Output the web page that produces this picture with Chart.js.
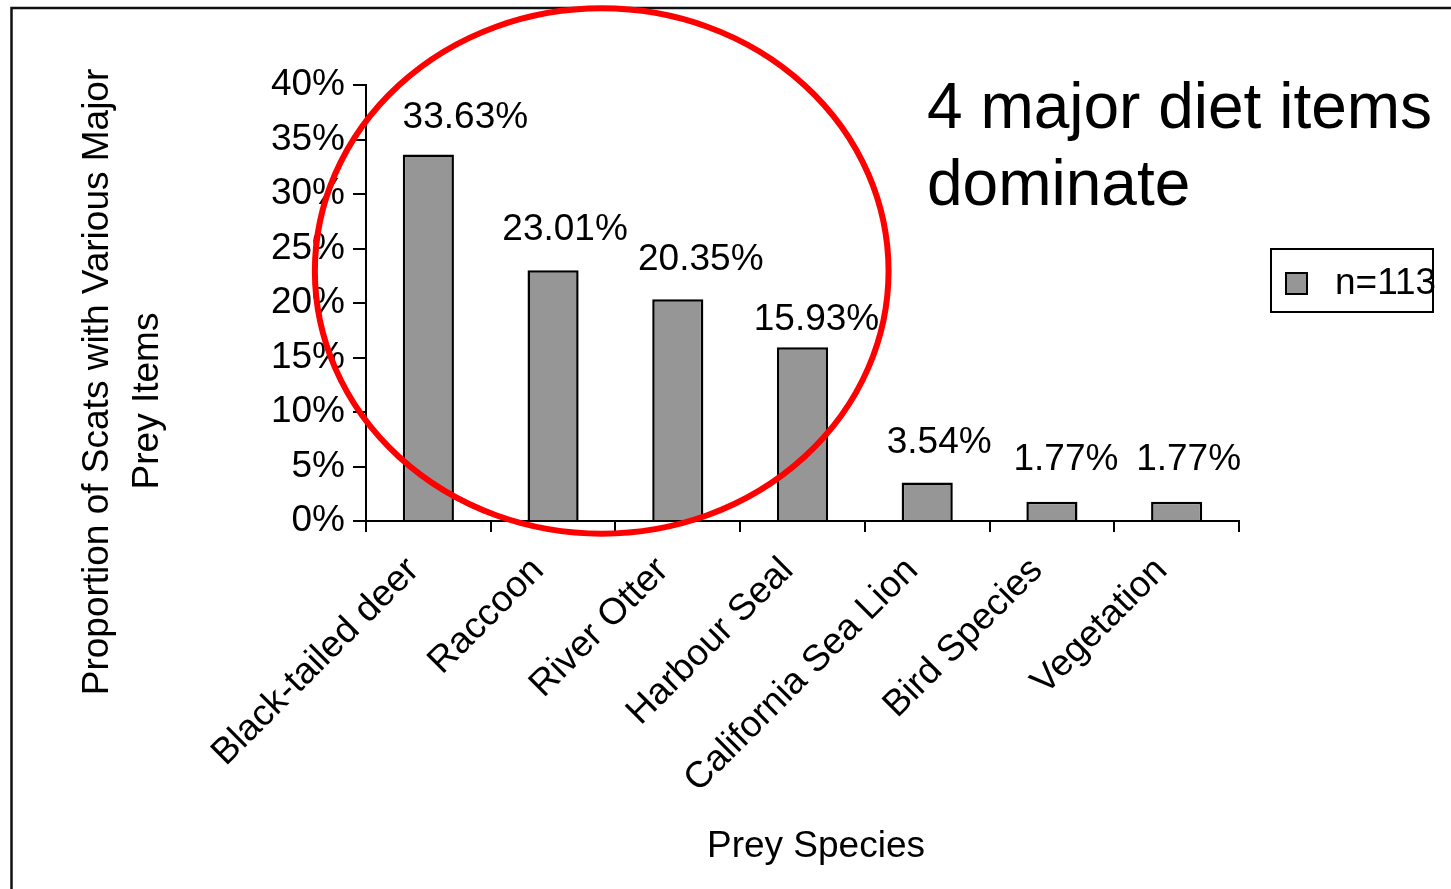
<!DOCTYPE html>
<html>
<head>
<meta charset="utf-8">
<script src="https://cdn.jsdelivr.net/npm/chart.js@4.4.1/dist/chart.umd.min.js"></script>
<style>
  html, body { margin: 0; padding: 0; background: #fff; overflow: hidden; }
  #wrap { width: 1451px; height: 889px; position: relative; }
</style>
</head>
<body>
<div id="wrap"><canvas id="chart"></canvas></div>
<script>
// data
const categories = ['Black-tailed deer', 'Raccoon', 'River Otter', 'Harbour Seal',
                    'California Sea Lion', 'Bird Species', 'Vegetation'];
const values = [33.63, 23.01, 20.35, 15.93, 3.54, 1.77, 1.77];
const yTickValues = [0, 5, 10, 15, 20, 25, 30, 35, 40];
const seriesName = 'n=113';
const yTitleLines = ['Proportion of Scats with Various Major', 'Prey Items'];
const xTitle = 'Prey Species';
const noteLines = ['4 major diet items', 'dominate'];

const FONT = '"Liberation Sans", Arial, sans-serif';
const BAR_FILL = '#969696';

Chart.defaults.font.family = FONT;
Chart.defaults.color = '#000';

// label nudges (px) - the labels in the original were moved by hand
const labelNudge = [[37, 3], [12, 0], [23, 1], [14, 12], [12, 0], [14, -2], [12, -2]];

// the red ring, in data units (category index / percent)
const ring = { cx: 1.39, rx: 2.30, cy: 22.94, ry: 24.1 };

const extras = {
  id: 'extras',
  afterDraw(chart) {
    const { ctx, scales: { x, y } } = chart;
    ctx.save();

    // frame around the slide
    ctx.strokeStyle = '#111';
    ctx.lineWidth = 2.5;
    ctx.strokeRect(11.5, 8, 3000, 3000);

    // value labels
    ctx.fillStyle = '#000';
    ctx.font = '37px ' + FONT;
    ctx.textAlign = 'center';
    ctx.textBaseline = 'middle';
    chart.getDatasetMeta(0).data.forEach((bar, i) => {
      const [dx, dy] = labelNudge[i];
      ctx.fillText(values[i].toFixed(2) + '%', bar.x + dx, bar.y - 40 + dy);
    });

    // axis titles
    ctx.font = '37px ' + FONT;
    ctx.fillText(xTitle, 816, 847);
    ctx.save();
    ctx.translate(98, 382);
    ctx.rotate(-Math.PI / 2);
    ctx.fillText(yTitleLines[0], 0, 0);
    ctx.restore();
    ctx.save();
    ctx.translate(148, 401);
    ctx.rotate(-Math.PI / 2);
    ctx.fillText(yTitleLines[1], 0, 0);
    ctx.restore();

    // note
    ctx.font = '64px ' + FONT;
    ctx.textAlign = 'left';
    ctx.textBaseline = 'alphabetic';
    ctx.fillText(noteLines[0], 927, 128);
    ctx.fillText(noteLines[1], 927, 205);

    // legend
    ctx.font = '37px ' + FONT;
    ctx.textBaseline = 'middle';
    ctx.fillText(seriesName, 1335, 284);
    ctx.fillStyle = BAR_FILL;
    ctx.fillRect(1286, 273, 21, 21);
    ctx.lineWidth = 2;
    ctx.strokeStyle = '#000';
    ctx.strokeRect(1286, 273, 21, 21);
    ctx.strokeRect(1271, 249, 162, 63);

    // red ring
    const cx = x.getPixelForValue(ring.cx);
    const rx = x.getPixelForValue(ring.cx + ring.rx) - cx;
    const cy = y.getPixelForValue(ring.cy);
    const ry = cy - y.getPixelForValue(ring.cy + ring.ry);
    ctx.beginPath();
    ctx.ellipse(cx, cy, rx, ry, 0, 0, Math.PI * 2);
    ctx.strokeStyle = '#ff0000';
    ctx.lineWidth = 6;
    ctx.stroke();

    ctx.restore();
  }
};

new Chart(document.getElementById('chart'), {
  type: 'bar',
  data: {
    labels: categories,
    datasets: [{
      label: seriesName,
      data: values,
      backgroundColor: BAR_FILL,
      borderColor: '#000',
      borderWidth: 2.5,
      borderSkipped: 'start',
      categoryPercentage: 1,
      barPercentage: 0.41
    }]
  },
  options: {
    responsive: true,
    maintainAspectRatio: false,
    animation: false,
    layout: { padding: { top: 85, right: 212, bottom: 0, left: 0 } },
    plugins: { legend: { display: false }, tooltip: { enabled: false } },
    scales: {
      x: {
        grid: { drawOnChartArea: false, drawTicks: true, tickLength: 11, color: '#000', lineWidth: 2 },
        border: { display: true, color: '#000', width: 2 },
        ticks: { autoSkip: false, minRotation: 45, maxRotation: 45, font: { size: 37 }, color: '#000',
                 padding: 17, labelOffset: -15 },
        afterFit(scale) { scale.height = 368; }
      },
      y: {
        min: 0,
        max: 40,
        afterBuildTicks(scale) { scale.ticks = yTickValues.map(v => ({ value: v })); },
        grid: { drawOnChartArea: false, drawTicks: true, tickLength: 13, color: '#000', lineWidth: 2 },
        border: { display: true, color: '#000', width: 2 },
        ticks: { callback: v => v + '%', font: { size: 37 }, color: '#000', padding: 8 },
        afterFit(scale) { scale.width = 366; }
      }
    }
  },
  plugins: [extras]
});
</script>
</body>
</html>
